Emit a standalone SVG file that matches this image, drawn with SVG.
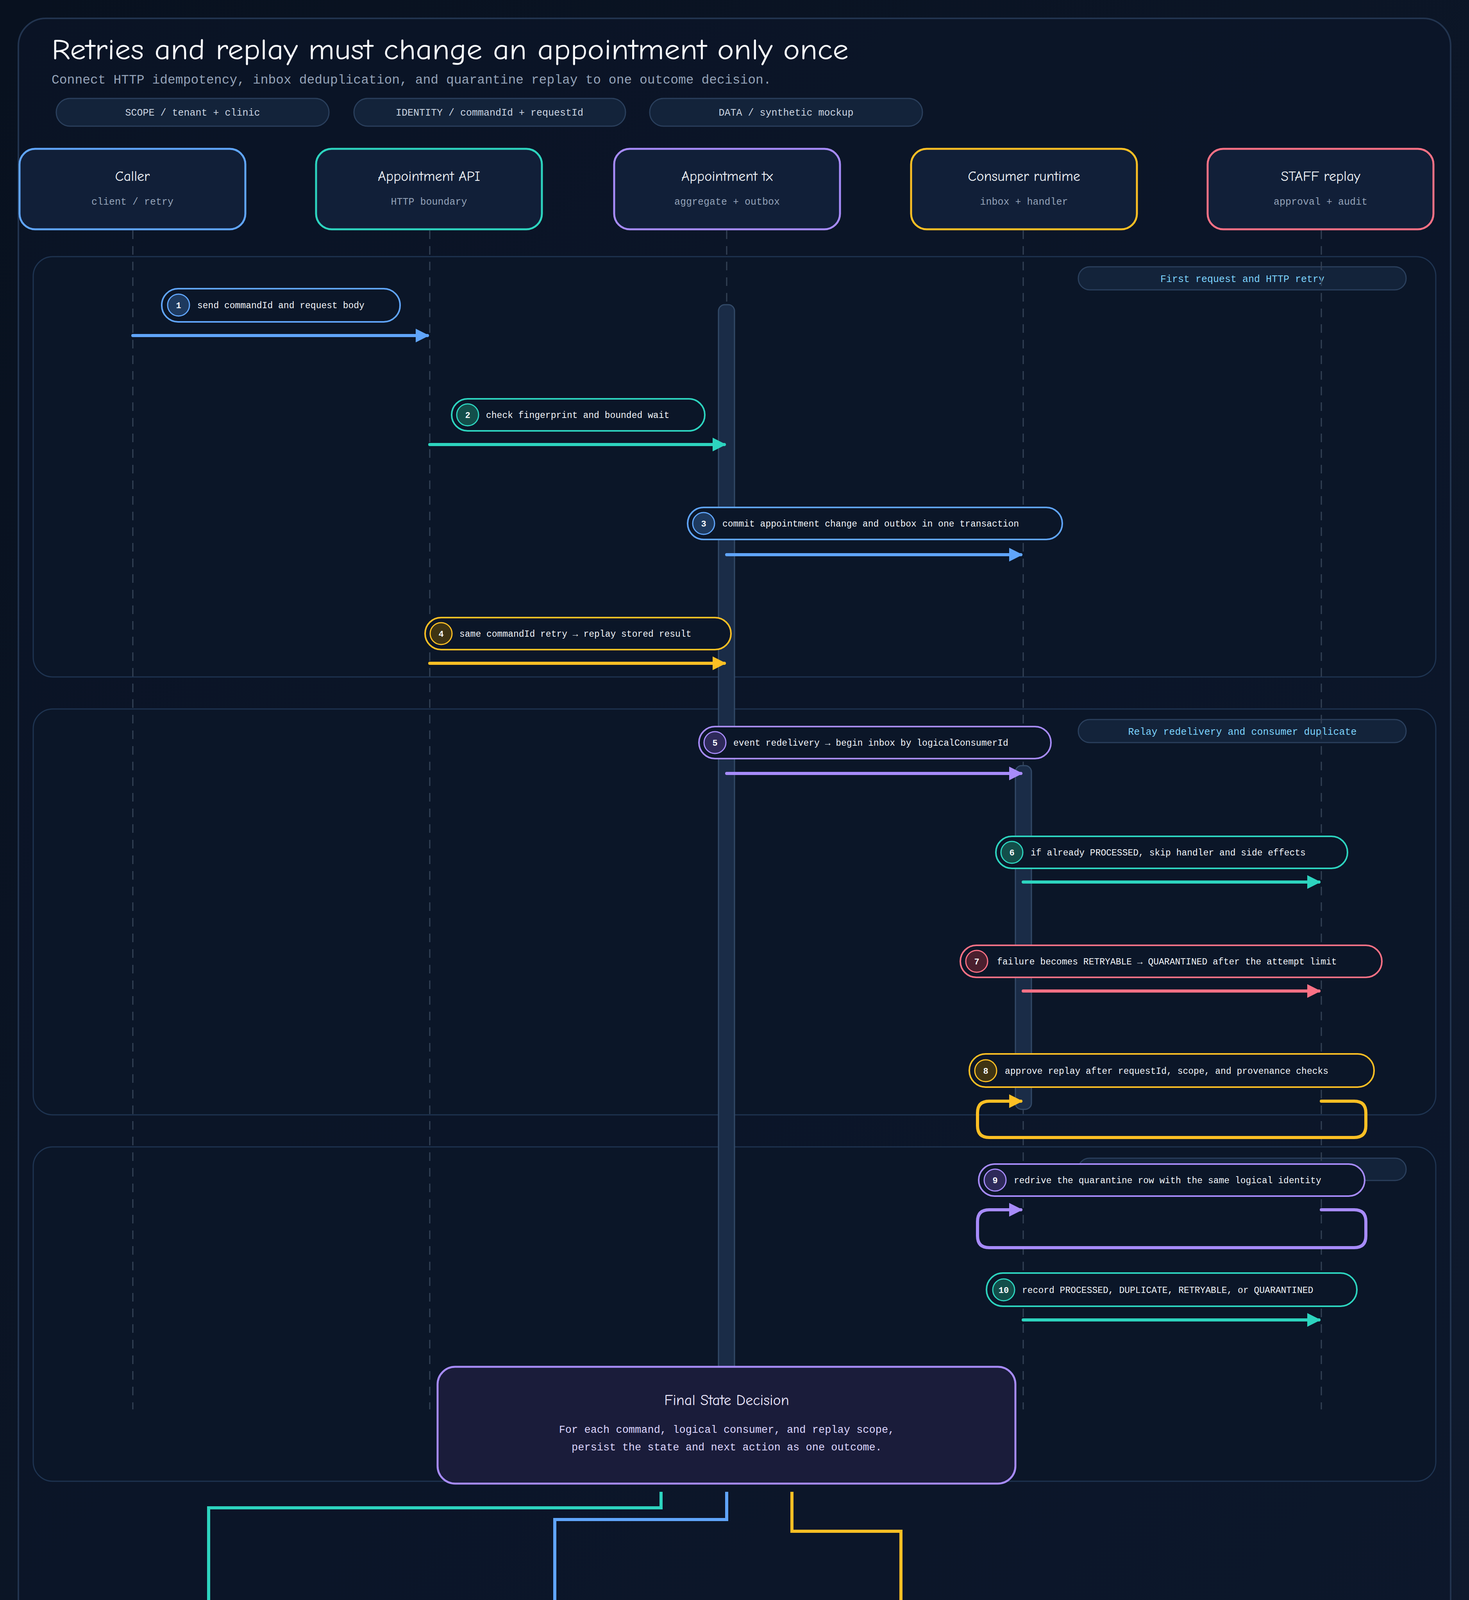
<svg xmlns="http://www.w3.org/2000/svg" width="3760" height="4600" viewBox="0 0 3760 4600">
<defs>
<linearGradient id="bg" x1="0" y1="0" x2="1" y2="1"><stop offset="0" stop-color="#08111f"/><stop offset="1" stop-color="#0f1a2e"/></linearGradient>
<marker id="mB" markerWidth="4.4" markerHeight="4.4" refX="3.8" refY="2.2" orient="auto" markerUnits="strokeWidth"><path d="M0,0 L4.4,2.2 L0,4.4 z" fill="#60a5fa"/></marker>
<marker id="mT" markerWidth="4.4" markerHeight="4.4" refX="3.8" refY="2.2" orient="auto" markerUnits="strokeWidth"><path d="M0,0 L4.4,2.2 L0,4.4 z" fill="#2dd4bf"/></marker>
<marker id="mP" markerWidth="4.4" markerHeight="4.4" refX="3.8" refY="2.2" orient="auto" markerUnits="strokeWidth"><path d="M0,0 L4.4,2.2 L0,4.4 z" fill="#a78bfa"/></marker>
<marker id="mA" markerWidth="4.4" markerHeight="4.4" refX="3.8" refY="2.2" orient="auto" markerUnits="strokeWidth"><path d="M0,0 L4.4,2.2 L0,4.4 z" fill="#fbbf24"/></marker>
<marker id="mR" markerWidth="4.4" markerHeight="4.4" refX="3.8" refY="2.2" orient="auto" markerUnits="strokeWidth"><path d="M0,0 L4.4,2.2 L0,4.4 z" fill="#fb7185"/></marker>
</defs>
<style>
.hand{font-family:"Comic Neue","Liberation Sans","DejaVu Sans",sans-serif}
.mono{font-family:"Liberation Mono","DejaVu Sans Mono",monospace}
.pill{fill:#13233a;stroke:#2a3f5c;stroke-width:3}
.pilltx{font-size:25px;fill:#cbd5e1;text-anchor:middle}
.head{fill:#111f38;stroke-width:5}
.htitle{font-size:36px;fill:#f1f5f9;text-anchor:middle}
.hsub{font-size:25px;fill:#94a3b8;text-anchor:middle}
.life{stroke:#334155;stroke-width:3;stroke-dasharray:22 18}
.panel{fill:#0b1628;stroke:#1e3350;stroke-width:3}
.sect{fill:#13233a;stroke:#2a3f5c;stroke-width:3}
.secttx{font-size:25px;fill:#7dd3fc;text-anchor:middle}
.lab{fill:#0b1628;stroke-width:4}
.labtx{font-size:23px;fill:#f1f5f9}
.num{font-size:22px;fill:#f8fafc;text-anchor:middle;font-weight:bold}
.msg{fill:none;stroke-width:8;stroke-linecap:round;stroke-linejoin:round}
.act{fill:#1a2c47;stroke:#334a68;stroke-width:3}
.out{fill:#111f38;stroke-width:5}
.otitle{font-size:30px;fill:#f8fafc;text-anchor:middle;font-weight:bold}
.osub{font-size:25px;fill:#94a3b8;text-anchor:middle}
</style>
<rect width="3760" height="4600" fill="url(#bg)"/>
<rect x="47" y="47" width="3666" height="4505" rx="70" fill="#0b1629" fill-opacity="0.6" stroke="#22344f" stroke-width="4"/>
<text class="hand" x="132" y="152" font-size="74" fill="#f8fafc" textLength="2040" lengthAdjust="spacingAndGlyphs">Retries and replay must change an appointment only once</text>
<text class="mono" x="132" y="214" font-size="33" fill="#94a3b8">Connect HTTP idempotency, inbox deduplication, and quarantine replay to one outcome decision.</text>
<g id="chips">
<rect class="pill" x="144" y="252" width="698" height="71" rx="35"/><text class="mono pilltx" x="493" y="296">SCOPE / tenant + clinic</text>
<rect class="pill" x="906" y="252" width="695" height="71" rx="35"/><text class="mono pilltx" x="1253" y="296">IDENTITY / commandId + requestId</text>
<rect class="pill" x="1663" y="252" width="698" height="71" rx="35"/><text class="mono pilltx" x="2012" y="296">DATA / synthetic mockup</text>
</g>
<g id="panels">
<rect class="panel" x="85" y="657" width="3590" height="1076" rx="50"/>
<rect class="sect" x="2760" y="683" width="839" height="59" rx="29"/><text class="mono secttx" x="3180" y="722">First request and HTTP retry</text>
<rect class="panel" x="85" y="1815" width="3590" height="1039" rx="50"/>
<rect class="sect" x="2760" y="1842" width="839" height="59" rx="29"/><text class="mono secttx" x="3180" y="1881">Relay redelivery and consumer duplicate</text>
<rect class="panel" x="85" y="2936" width="3590" height="856" rx="50"/>
<rect class="sect" x="2760" y="2965" width="839" height="57" rx="28"/>
</g>
<g id="lifelines">
<line class="life" x1="340" y1="590" x2="340" y2="3608"/>
<line class="life" x1="1100" y1="590" x2="1100" y2="3608"/>
<line class="life" x1="1860" y1="590" x2="1860" y2="3608"/>
<line class="life" x1="2619" y1="590" x2="2619" y2="3608"/>
<line class="life" x1="3382" y1="590" x2="3382" y2="3608"/>
</g>
<g id="activations">
<rect class="act" x="1839" y="780" width="41" height="2760" rx="16"/>
<rect class="act" x="2599" y="1960" width="41" height="880" rx="16"/>
</g>
<g id="caller"><rect class="head" x="50" y="381" width="578" height="206" rx="40" stroke="#60a5fa"/><text class="hand htitle" x="339" y="463">Caller</text><text class="mono hsub" x="339" y="524">client / retry</text></g>
<g id="api"><rect class="head" x="809" y="381" width="578" height="206" rx="40" stroke="#2dd4bf"/><text class="hand htitle" x="1098" y="463">Appointment API</text><text class="mono hsub" x="1098" y="524">HTTP boundary</text></g>
<g id="tx"><rect class="head" x="1572" y="381" width="578" height="206" rx="40" stroke="#a78bfa"/><text class="hand htitle" x="1861" y="463">Appointment tx</text><text class="mono hsub" x="1861" y="524">aggregate + outbox</text></g>
<g id="consumer"><rect class="head" x="2332" y="381" width="578" height="206" rx="40" stroke="#fbbf24"/><text class="hand htitle" x="2621" y="463">Consumer runtime</text><text class="mono hsub" x="2621" y="524">inbox + handler</text></g>
<g id="staff"><rect class="head" x="3091" y="381" width="578" height="206" rx="40" stroke="#fb7185"/><text class="hand htitle" x="3380" y="463">STAFF replay</text><text class="mono hsub" x="3380" y="524">approval + audit</text></g>
<g id="connectors">
<line class="msg" x1="340" y1="859" x2="1094" y2="859" stroke="#60a5fa" marker-end="url(#mB)"/>
<line class="msg" x1="1100" y1="1138" x2="1854" y2="1138" stroke="#2dd4bf" marker-end="url(#mT)"/>
<line class="msg" x1="1860" y1="1420" x2="2613" y2="1420" stroke="#60a5fa" marker-end="url(#mB)"/>
<line class="msg" x1="1100" y1="1698" x2="1854" y2="1698" stroke="#fbbf24" marker-end="url(#mA)"/>
<line class="msg" x1="1860" y1="1980" x2="2613" y2="1980" stroke="#a78bfa" marker-end="url(#mP)"/>
<line class="msg" x1="2619" y1="2258" x2="3376" y2="2258" stroke="#2dd4bf" marker-end="url(#mT)"/>
<line class="msg" x1="2619" y1="2537" x2="3376" y2="2537" stroke="#fb7185" marker-end="url(#mR)"/>
<path class="msg" d="M3382 2819 H3466 Q3496 2819 3496 2849 V2882 Q3496 2912 3466 2912 H2532 Q2502 2912 2502 2882 V2849 Q2502 2819 2532 2819 H2613" stroke="#fbbf24" marker-end="url(#mA)"/>
<path class="msg" d="M3382 3097 H3466 Q3496 3097 3496 3127 V3164 Q3496 3194 3466 3194 H2532 Q2502 3194 2502 3164 V3127 Q2502 3097 2532 3097 H2613" stroke="#a78bfa" marker-end="url(#mP)"/>
<line class="msg" x1="2619" y1="3379" x2="3376" y2="3379" stroke="#2dd4bf" marker-end="url(#mT)"/>
<path fill="none" stroke-width="8" d="M1692 3819 V3860 H534 V4150" stroke="#2dd4bf" marker-end="url(#mT)"/>
<path fill="none" stroke-width="8" d="M1860 3819 V3890 H1420 V4150" stroke="#60a5fa" marker-end="url(#mB)"/>
<path fill="none" stroke-width="8" d="M2027 3819 V3920 H2306 V4150" stroke="#fbbf24" marker-end="url(#mA)"/>
</g>
<g id="step1"><rect class="lab" x="414" y="739" width="610" height="85" rx="42" stroke="#60a5fa"/><circle cx="457" cy="781" r="28" fill="#1e3a5f" stroke="#60a5fa" stroke-width="3"/><text class="mono num" x="457" y="789">1</text><text class="mono labtx" x="505" y="789">send commandId and request body</text></g>
<g id="step2"><rect class="lab" x="1156" y="1021" width="648" height="82" rx="41" stroke="#2dd4bf"/><circle cx="1197" cy="1062" r="28" fill="#134e4a" stroke="#2dd4bf" stroke-width="3"/><text class="mono num" x="1197" y="1070">2</text><text class="mono labtx" x="1244" y="1070">check fingerprint and bounded wait</text></g>
<g id="step3"><rect class="lab" x="1760" y="1299" width="959" height="82" rx="41" stroke="#60a5fa"/><circle cx="1801" cy="1340" r="28" fill="#1e3a5f" stroke="#60a5fa" stroke-width="3"/><text class="mono num" x="1801" y="1348">3</text><text class="mono labtx" x="1849" y="1348">commit appointment change and outbox in one transaction</text></g>
<g id="step4"><rect class="lab" x="1088" y="1581" width="783" height="82" rx="41" stroke="#fbbf24"/><circle cx="1129" cy="1622" r="28" fill="#3f3413" stroke="#fbbf24" stroke-width="3"/><text class="mono num" x="1129" y="1630">4</text><text class="mono labtx" x="1176" y="1630">same commandId retry → replay stored result</text></g>
<g id="step5"><rect class="lab" x="1789" y="1860" width="901" height="82" rx="41" stroke="#a78bfa"/><circle cx="1830" cy="1901" r="28" fill="#2e2a5a" stroke="#a78bfa" stroke-width="3"/><text class="mono num" x="1830" y="1909">5</text><text class="mono labtx" x="1877" y="1909">event redelivery → begin inbox by logicalConsumerId</text></g>
<g id="step6"><rect class="lab" x="2549" y="2141" width="900" height="82" rx="41" stroke="#2dd4bf"/><circle cx="2590" cy="2182" r="28" fill="#134e4a" stroke="#2dd4bf" stroke-width="3"/><text class="mono num" x="2590" y="2190">6</text><text class="mono labtx" x="2638" y="2190">if already PROCESSED, skip handler and side effects</text></g>
<g id="step7"><rect class="lab" x="2458" y="2420" width="1079" height="82" rx="41" stroke="#fb7185"/><circle cx="2500" cy="2461" r="28" fill="#4a1f2e" stroke="#fb7185" stroke-width="3"/><text class="mono num" x="2500" y="2469">7</text><text class="mono labtx" x="2552" y="2469">failure becomes RETRYABLE → QUARANTINED after the attempt limit</text></g>
<g id="step8"><rect class="lab" x="2481" y="2698" width="1036" height="85" rx="42" stroke="#fbbf24"/><circle cx="2523" cy="2741" r="28" fill="#3f3413" stroke="#fbbf24" stroke-width="3"/><text class="mono num" x="2523" y="2749">8</text><text class="mono labtx" x="2572" y="2749">approve replay after requestId, scope, and provenance checks</text></g>
<g id="step9"><rect class="lab" x="2505" y="2980" width="988" height="82" rx="41" stroke="#a78bfa"/><circle cx="2547" cy="3021" r="28" fill="#2e2a5a" stroke="#a78bfa" stroke-width="3"/><text class="mono num" x="2547" y="3029">9</text><text class="mono labtx" x="2595" y="3029">redrive the quarantine row with the same logical identity</text></g>
<g id="step10"><rect class="lab" x="2525" y="3259" width="948" height="85" rx="42" stroke="#2dd4bf"/><circle cx="2569" cy="3302" r="28" fill="#134e4a" stroke="#2dd4bf" stroke-width="3"/><text class="mono num" x="2569" y="3310">10</text><text class="mono labtx" x="2616" y="3310">record PROCESSED, DUPLICATE, RETRYABLE, or QUARANTINED</text></g>
<g id="decision"><rect x="1120" y="3499" width="1479" height="299" rx="45" fill="#1a1c3a" stroke="#a78bfa" stroke-width="5"/><text class="hand" x="1860" y="3597" font-size="38" fill="#ede9fe" text-anchor="middle">Final State Decision</text><text class="mono" x="1860" y="3668" font-size="27" fill="#ddd6fe" text-anchor="middle">For each command, logical consumer, and replay scope,</text><text class="mono" x="1860" y="3713" font-size="27" fill="#ddd6fe" text-anchor="middle">persist the state and next action as one outcome.</text></g>
<g id="processed"><rect class="out" x="135" y="4159" width="801" height="261" rx="40" stroke="#2dd4bf"/><text class="mono otitle" x="535" y="4243">PROCESSED</text><text class="hand osub" x="535" y="4312">appointment change and side effect complete</text><text class="mono osub" x="535" y="4368">visible in action queue</text></g>
<g id="duplicate"><rect class="out" x="1018" y="4159" width="800" height="261" rx="40" stroke="#60a5fa"/><text class="mono otitle" x="1418" y="4243">DUPLICATE</text><text class="hand osub" x="1418" y="4312">reuse prior result · no second change</text><text class="mono osub" x="1418" y="4368">visible in action queue</text></g>
<g id="retryable"><rect class="out" x="1904" y="4159" width="797" height="261" rx="40" stroke="#fbbf24"/><text class="mono otitle" x="2303" y="4243">RETRYABLE / QUARANTINED</text><text class="hand osub" x="2303" y="4312">next attempt or STAFF review</text><text class="mono osub" x="2303" y="4368">visible in action queue</text></g>
<text class="mono" x="132" y="4478" font-size="25" fill="#94a3b8">Solid lines are explicit record and call paths. Every outcome branch leaves the final state decision independently.</text>
</svg>
